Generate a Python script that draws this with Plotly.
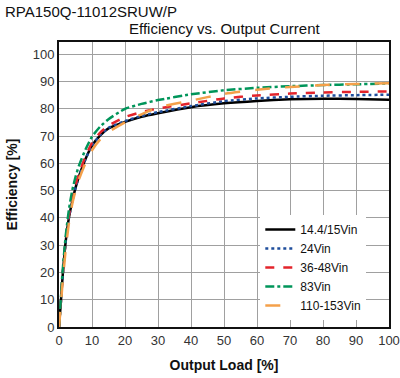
import plotly.graph_objects as go

load = [0, 0.5, 1, 2, 3, 4, 5, 6, 8, 10, 12.5, 15, 20, 25, 30, 40, 50, 60, 70, 80, 90, 100]

eff_144_15 = [0, 8, 17, 31, 40, 46, 51, 55, 61.5, 66.5, 70.3, 72.8, 75.2, 77.1, 78.4, 80.6, 82.0, 82.9, 83.5, 83.7, 83.6, 83.3]
eff_24 = [0, 8, 17, 31, 40, 46, 51, 55, 61.5, 66.5, 70.4, 73.0, 75.5, 77.4, 78.8, 81.0, 82.8, 83.8, 84.4, 84.8, 85.0, 85.2]
eff_36_48 = [0, 8, 17.5, 31.5, 41, 47, 52, 56, 62.5, 67.5, 71.3, 73.8, 77.0, 78.8, 80.1, 82.0, 83.8, 84.9, 85.6, 86.0, 86.2, 86.4]
eff_83 = [0, 9, 19, 33, 43, 50, 55, 59, 65, 69.8, 73.5, 76.2, 80.0, 81.8, 83.2, 85.3, 86.8, 87.7, 88.3, 88.7, 89.0, 89.3]
eff_110_153 = [0, 7, 15, 28, 38, 45, 50, 54, 60, 64.8, 68.8, 71.5, 75.0, 78.0, 80.5, 83.0, 85.5, 87.0, 88.0, 88.7, 89.1, 89.4]

series_names = ["14.4/15Vin", "24Vin", "36-48Vin", "83Vin", "110-153Vin"]
series_values = [eff_144_15, eff_24, eff_36_48, eff_83, eff_110_153]
colors = ["#000000", "#1F4E9C", "#E3242B", "#00955A", "#F4A04A"]
dashes = ["solid", "dot", "dash", "dashdot", "longdash"]

x_ticks = list(range(0, 101, 10))
y_ticks = list(range(0, 101, 10))

FONT = "Liberation Sans, Arial, sans-serif"

fig = go.Figure()
for name, vals, c, d in zip(series_names, series_values, colors, dashes):
    fig.add_trace(go.Scatter(
        x=load, y=vals, mode="lines", name=name,
        line=dict(color=c, width=2.5, dash=d, shape="spline", smoothing=0.5),
    ))

fig.update_layout(
    width=400, height=378,
    margin=dict(l=59, r=11, t=42, b=51, autoexpand=False),
    paper_bgcolor="white", plot_bgcolor="white",
    font=dict(family=FONT, size=13, color="#222"),
    showlegend=True,
    legend=dict(
        x=0.61, xanchor="left", y=0.025, yanchor="bottom",
        bgcolor="white", borderwidth=0,
        font=dict(family=FONT, size=12, color="#111"),
        tracegroupgap=0, itemwidth=30,
    ),
    annotations=[
        dict(text="RPA150Q-11012SRUW/P", x=-56/330, y=1 + 42/284, xref="paper", yref="paper",
             xanchor="left", yanchor="top", showarrow=False,
             font=dict(family=FONT, size=15, color="#111"), yshift=-1),
        dict(text="Efficiency vs. Output Current", x=0.5, y=1 + 42/284, xref="paper", yref="paper",
             xanchor="center", yanchor="top", showarrow=False,
             font=dict(family=FONT, size=15, color="#111"), yshift=-18),
    ],
)

fig.update_xaxes(
    range=[0, 100], tickvals=x_ticks, ticktext=[str(v) for v in x_ticks],
    showgrid=True, gridcolor="#A0A0A0", gridwidth=1,
    showline=True, linecolor="#111", linewidth=2, mirror=True,
    ticks="", zeroline=False, automargin=False,
    tickfont=dict(family=FONT, size=13, color="#333"),
    title=dict(text="<b>Output Load [%]</b>", font=dict(family=FONT, size=14, color="#111"), standoff=14),
)
fig.update_yaxes(
    range=[0, 104.5], tickvals=y_ticks, ticktext=[str(v) for v in y_ticks],
    showgrid=True, gridcolor="#A0A0A0", gridwidth=1,
    showline=True, linecolor="#111", linewidth=2, mirror=True,
    ticks="", zeroline=False, automargin=False,
    tickfont=dict(family=FONT, size=13, color="#333"),
    title=dict(text="<b>Efficiency [%]</b>", font=dict(family=FONT, size=14, color="#111"), standoff=12),
)

fig.write_html("out.html", config={"displayModeBar": False},
               post_script="document.body.style.margin='0';document.body.style.padding='0';")
